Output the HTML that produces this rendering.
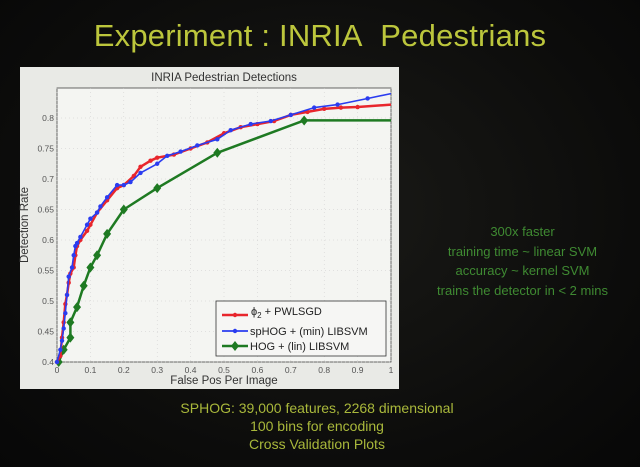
<!DOCTYPE html>
<html><head><meta charset="utf-8"><style>
html,body{margin:0;padding:0;}
body{width:640px;height:467px;overflow:hidden;background:radial-gradient(ellipse at 50% 45%,#1a1a17 0%,#0c0c0b 70%,#070707 100%);font-family:"Liberation Sans",sans-serif;position:relative;}
.title{position:absolute;left:0;width:640px;top:18px;text-align:center;font-size:31px;color:#bcc63c;letter-spacing:0.2px;}
.side{position:absolute;left:410px;width:225px;top:222px;text-align:center;font-size:13px;line-height:19.5px;color:#3f8a32;}
.bottom{position:absolute;left:0;width:634px;top:399px;text-align:center;font-size:14px;line-height:18px;color:#a9b83b;}
svg{position:absolute;left:0;top:0;}
</style></head><body>
<div class="title">Experiment : INRIA&nbsp; Pedestrians</div>
<svg id="s" width="640" height="467" font-family="Liberation Sans, sans-serif">
<rect x="20" y="67" width="379" height="322" fill="#e9eae6"/>
<rect x="57" y="88" width="334" height="274" fill="#f4f5f2" stroke="#444" stroke-width="0.8"/>
<text x="224" y="81" font-size="11.5" fill="#333" text-anchor="middle">INRIA Pedestrian Detections</text>
<text x="224" y="384" font-size="11.5" fill="#333" text-anchor="middle">False Pos Per Image</text>
<text x="28" y="225" font-size="11.5" fill="#333" text-anchor="middle" transform="rotate(-90 28 225)">Detection Rate</text>
<g id="g"></g>
<rect x="216" y="301" width="170" height="55" fill="#f6f6f4" stroke="#333" stroke-width="0.8"/>
<line x1="222" y1="315" x2="248" y2="315" stroke="#e8262c" stroke-width="2.5"/><circle cx="235" cy="315" r="2.2" fill="#e8262c"/>
<text x="251" y="315" font-size="11" fill="#222">ϕ<tspan font-size="8" dy="3">2</tspan><tspan dy="-3"> + PWLSGD</tspan></text>
<line x1="222" y1="331" x2="248" y2="331" stroke="#2a3cf0" stroke-width="1.8"/><circle cx="235" cy="331" r="2.2" fill="#2a3cf0"/>
<text x="250" y="335" font-size="11" fill="#222">spHOG + (min) LIBSVM</text>
<line x1="222" y1="346" x2="248" y2="346" stroke="#1e7a22" stroke-width="2.5"/><path d="M235 341 L239 346 L235 351 L231 346Z" fill="#1e7a22"/>
<text x="250" y="350" font-size="11" fill="#222">HOG + (lin) LIBSVM</text>
</svg>
<div class="side">300x faster<br>training time ~ linear SVM<br>accuracy ~ kernel SVM<br>trains the detector in &lt; 2 mins</div>
<div class="bottom">SPHOG: 39,000 features, 2268 dimensional<br>100 bins for encoding<br>Cross Validation Plots</div>
<script>
var X=v=>57+334*v, Y=v=>362-(v-0.4)*610;
var g=document.getElementById('g'),h='';
for(var i=0;i<=10;i++){var x=X(i/10);h+='<line x1="'+x+'" y1="88" x2="'+x+'" y2="362" stroke="#ccc" stroke-width="0.5" stroke-dasharray="1,3"/>';
h+='<text x="'+x+'" y="373" font-size="8.5" fill="#555" text-anchor="middle">'+(i==0?'0':i==10?'1':(i/10))+'</text>';}
for(var j=0;j<=8;j++){var v=0.4+j*0.05,y=Y(v);h+='<line x1="57" y1="'+y+'" x2="391" y2="'+y+'" stroke="#ccc" stroke-width="0.5" stroke-dasharray="1,3"/>';
h+='<text x="54" y="'+(y+3)+'" font-size="8.5" fill="#555" text-anchor="end">'+(+v.toFixed(2))+'</text>';}
var red=[[0,.40],[.01,.41],[.015,.44],[.02,.465],[.025,.495],[.03,.51],[.035,.53],[.04,.545],[.05,.555],[.055,.575],[.06,.59],[.07,.60],[.09,.615],[.1,.625],[.12,.645],[.15,.665],[.18,.685],[.2,.69],[.23,.705],[.25,.72],[.28,.73],[.3,.735],[.35,.74],[.4,.75],[.45,.76],[.5,.775],[.55,.785],[.6,.79],[.65,.795],[.7,.805],[.75,.81],[.8,.815],[.85,.817],[.9,.818],[1,.822]];
var blue=[[0,.4],[.01,.42],[.015,.435],[.02,.455],[.025,.48],[.03,.51],[.035,.54],[.045,.555],[.05,.575],[.055,.59],[.06,.595],[.07,.605],[.09,.625],[.1,.635],[.12,.645],[.13,.655],[.15,.67],[.18,.69],[.2,.69],[.22,.695],[.25,.71],[.3,.725],[.33,.738],[.37,.745],[.42,.755],[.48,.765],[.52,.78],[.58,.79],[.64,.795],[.7,.805],[.77,.817],[.84,.822],[.93,.832],[1,.84]];
var green=[[.005,.40],[.02,.42],[.04,.44],[.04,.465],[.06,.49],[.08,.525],[.1,.555],[.12,.575],[.15,.61],[.2,.65],[.3,.685],[.48,.743],[.74,.796],[1,.796]];
function ser(d,c,w,m){var p=d.map(a=>X(a[0]).toFixed(1)+','+Y(a[1]).toFixed(1)).join(' ');
h+='<polyline points="'+p+'" fill="none" stroke="'+c+'" stroke-width="'+w+'" stroke-linejoin="round"/>';
d.forEach(a=>{var x=X(a[0]),y=Y(a[1]);if(m=='d'){if(a[0]<.999)h+='<path d="M'+x+' '+(y-5)+' L'+(x+4)+' '+y+' L'+x+' '+(y+5)+' L'+(x-4)+' '+y+'Z" fill="'+c+'"/>';}else if(a[0]<.999)h+='<circle cx="'+x+'" cy="'+y+'" r="2.2" fill="'+c+'"/>';});}
ser(green,'#1e7a22',2.5,'d');ser(red,'#e8262c',2.5,'c');ser(blue,'#2a3cf0',1.6,'c');
g.innerHTML=h;
</script>
</body></html>
